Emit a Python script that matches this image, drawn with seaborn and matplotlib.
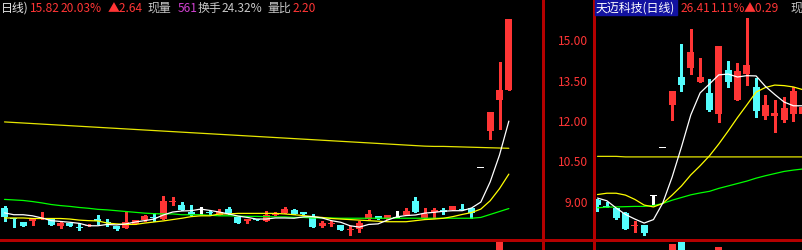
import numpy as np
import pandas as pd
import matplotlib
matplotlib.use("Agg")
import matplotlib.pyplot as plt
import seaborn as sns
from matplotlib.patches import Rectangle
from matplotlib.lines import Line2D
from matplotlib.transforms import blended_transform_factory

sns.set_theme(style="dark")
plt.rcParams['font.family'] = ['Noto Sans CJK SC', 'DejaVu Sans']

# ---------------- data: left chart (daily candles) ----------------
left_open = [8.78, 8.40, 8.26, 8.31, 8.37, 8.37, 8.12, 8.22, 8.07, 8.14,
             8.34, 8.24, 8.11, 8.03, 8.19, 8.33, 8.45, 8.37, 9.02, 8.89,
             8.62, 8.72, 8.63, 8.53, 8.74, 8.44, 8.29, 8.36, 8.29, 8.53,
             8.59, 8.71, 8.62, 8.44, 8.10, 8.21, 8.15, 7.99, 8.00, 8.37,
             8.47, 8.37, 8.44, 8.52, 9.04, 8.41, 8.62, 8.68, 8.71, 8.74,
             8.77, 10.29, 11.65, 12.80, 13.15]
left_high = [8.84, 8.41, 8.27, 8.37, 8.63, 8.38, 8.30, 8.23, 8.22, 8.18,
             8.52, 8.37, 8.12, 8.66, 8.34, 8.53, 8.59, 9.24, 9.18, 8.99,
             8.89, 8.82, 8.68, 8.74, 8.83, 8.45, 8.38, 8.37, 8.66, 8.64,
             8.83, 8.74, 8.65, 8.56, 8.31, 8.31, 8.16, 8.12, 8.31, 8.71,
             8.48, 8.53, 8.66, 8.78, 9.19, 8.78, 8.78, 8.78, 8.85, 8.93,
             8.78, 10.29, 12.35, 14.22, 15.82]
left_low = [8.31, 8.06, 8.10, 8.16, 8.36, 8.15, 8.04, 8.11, 7.96, 8.12,
            8.19, 8.12, 7.98, 8.02, 8.18, 8.29, 8.30, 8.36, 8.89, 8.70,
            8.51, 8.56, 8.57, 8.52, 8.57, 8.21, 8.21, 8.32, 8.28, 8.52,
            8.58, 8.55, 8.56, 8.08, 8.09, 8.12, 7.95, 7.79, 7.89, 8.36,
            8.36, 8.36, 8.43, 8.51, 8.63, 8.40, 8.41, 8.56, 8.70, 8.70,
            8.41, 10.29, 11.35, 11.72, 13.15]
left_close = [8.46, 8.37, 8.11, 8.37, 8.39, 8.16, 8.21, 8.12, 8.06, 8.15,
              8.33, 8.22, 7.99, 8.25, 8.33, 8.47, 8.43, 9.03, 9.03, 8.71,
              8.52, 8.72, 8.62, 8.62, 8.58, 8.22, 8.37, 8.34, 8.53, 8.58,
              8.74, 8.56, 8.57, 8.09, 8.22, 8.22, 7.96, 8.00, 8.21, 8.56,
              8.37, 8.52, 8.44, 8.66, 8.64, 8.57, 8.71, 8.66, 8.84, 8.71,
              8.58, 10.29, 12.35, 13.18, 15.82]
left_ma_white = [8.60, 8.53, 8.53, 8.49, 8.41, 8.31, 8.28, 8.25, 8.21, 8.12,
                 8.12, 8.17, 8.15, 8.19, 8.26, 8.31, 8.37, 8.52, 8.63, 8.67,
                 8.68, 8.74, 8.69, 8.63, 8.56, 8.48, 8.43, 8.37, 8.37, 8.41,
                 8.41, 8.40, 8.45, 8.46, 8.41, 8.31, 8.25, 8.12, 8.07, 8.17,
                 8.19, 8.33, 8.45, 8.50, 8.52, 8.59, 8.62, 8.66, 8.68, 8.68,
                 8.78, 9.00, 9.75, 10.75, 12.01]
left_ma_yellow = [8.41, 8.41, 8.41, 8.39, 8.39, 8.39, 8.39, 8.37, 8.33, 8.31,
                  8.30, 8.22, 8.19, 8.17, 8.17, 8.22, 8.26, 8.30, 8.35, 8.40,
                  8.46, 8.49, 8.49, 8.56, 8.56, 8.58, 8.58, 8.58, 8.58, 8.58,
                  8.56, 8.53, 8.50, 8.46, 8.43, 8.39, 8.37, 8.35, 8.33, 8.31,
                  8.29, 8.27, 8.27, 8.27, 8.31, 8.35, 8.37, 8.40, 8.46, 8.54,
                  8.61, 8.74, 9.05, 9.50, 10.04]
left_ma_green = [9.10, 9.08, 9.06, 9.02, 8.97, 8.91, 8.87, 8.84, 8.80, 8.77,
                 8.73, 8.71, 8.68, 8.65, 8.62, 8.59, 8.57, 8.56, 8.56, 8.53,
                 8.53, 8.53, 8.51, 8.49, 8.49, 8.48, 8.47, 8.47, 8.46, 8.45,
                 8.45, 8.43, 8.43, 8.41, 8.41, 8.41, 8.40, 8.40, 8.40, 8.40,
                 8.40, 8.40, 8.40, 8.40, 8.40, 8.40, 8.40, 8.40, 8.40, 8.40,
                 8.40, 8.43, 8.54, 8.65, 8.76]
left_ma_long = [11.98, 11.96, 11.94, 11.92, 11.90, 11.88, 11.86, 11.84, 11.82, 11.80,
                11.78, 11.76, 11.74, 11.72, 11.70, 11.68, 11.66, 11.64, 11.62, 11.60,
                11.58, 11.56, 11.54, 11.52, 11.50, 11.48, 11.46, 11.44, 11.42, 11.40,
                11.38, 11.36, 11.34, 11.32, 11.30, 11.28, 11.26, 11.24, 11.22, 11.20,
                11.18, 11.16, 11.14, 11.12, 11.10, 11.08, 11.07, 11.07, 11.06, 11.05,
                11.04, 11.03, 11.02, 11.01, 11.00]
left_vol_idx = [53]
left_vol_val = [99]

# ---------------- data: right chart (天迈科技) ----------------
right_open = [9.08, 8.87, 8.77, 8.58, 8.12, 8.15, 9.24, 11.04, 12.62, 13.66,
              13.98, 13.48, 13.06, 12.27, 13.91, 12.80, 13.76, 13.27, 12.21, 12.21,
              12.06, 12.27, 12.27]
right_high = [9.12, 9.01, 8.78, 8.64, 8.31, 8.16, 9.24, 11.04, 13.14, 14.88,
              15.43, 14.36, 13.58, 14.81, 14.26, 14.17, 15.84, 13.60, 12.98, 12.80,
              12.92, 13.27, 12.60]
right_low = [8.68, 8.80, 8.39, 7.99, 7.90, 7.78, 8.93, 11.04, 12.06, 13.14,
             13.76, 13.48, 12.40, 11.99, 13.29, 12.80, 13.36, 12.17, 12.09, 11.59,
             11.99, 12.03, 12.20]
right_close = [8.90, 8.81, 8.40, 8.00, 8.13, 7.84, 9.24, 11.04, 13.14, 13.36,
               14.59, 13.66, 12.43, 14.81, 13.45, 13.88, 14.11, 12.40, 12.61, 12.31,
               12.49, 13.14, 12.53]
right_ma_white = [9.15, 9.05, 8.78, 8.54, 8.37, 8.22, 8.35, 8.97, 9.93, 11.05,
                  12.24, 13.06, 13.39, 13.73, 13.76, 13.65, 13.70, 13.69, 13.30, 13.00,
                  12.72, 12.58, 12.58]
right_ma_yellow = [9.28, 9.33, 9.33, 9.26, 9.10, 8.89, 8.82, 8.95, 9.26, 9.60,
                   10.01, 10.35, 10.72, 11.16, 11.64, 12.14, 12.61, 13.09, 13.26, 13.35,
                   13.33, 13.28, 13.18]
right_ma_green = [8.79, 8.81, 8.82, 8.83, 8.84, 8.84, 8.87, 8.95, 9.07, 9.17,
                  9.27, 9.34, 9.40, 9.51, 9.60, 9.69, 9.78, 9.89, 9.98, 10.06,
                  10.14, 10.19, 10.23]
right_ma_long = [10.70, 10.70, 10.70, 10.68, 10.68, 10.68, 10.68, 10.68, 10.68, 10.68,
                 10.68, 10.68, 10.68, 10.68, 10.68, 10.68, 10.68, 10.68, 10.68, 10.68,
                 10.68, 10.68, 10.68]
right_vol_idx = [8, 9, 13]
right_vol_val = [96, 99, 93]

price_ticks = [15.00, 13.50, 12.00, 10.50, 9.00]

# ---------------- style ----------------
RED = '#ff3535'
CYAN = '#54fcfc'
WHITE = '#ffffff'
YELLOW = '#ffff00'
LONGY = '#e6e600'
GREEN = '#00ff00'
BORDER = '#b40000'
GRAY = '#c8c8c8'
MAGENTA = '#d040d0'

W, H = 802, 251
fig = plt.figure(figsize=(W / 100, H / 100), dpi=100, facecolor='black')


def fy(py):
    return 1 - py / H


YLIM = (7.628, 16.55)


def setup(ax, xlim, ylim):
    ax.set_facecolor('black')
    ax.set_xlim(*xlim)
    ax.set_ylim(*ylim)
    ax.set_xticks([])
    ax.set_yticks([])
    ax.set_xlabel('')
    ax.set_ylabel('')
    ax.grid(False)
    for s in ax.spines.values():
        s.set_visible(False)


def candle_colors(o, c):
    o = np.asarray(o); c = np.asarray(c)
    return np.where(c > o, RED, np.where(c < o, CYAN, WHITE))


def draw_candles(ax, o, h, l, c):
    o, h, l, c = map(np.asarray, (o, h, l, c))
    x = np.arange(len(o))
    cols = candle_colors(o, c)
    ax.vlines(x, l, h, colors=cols, linewidth=0.8, antialiased=False, zorder=2)
    bottom = np.minimum(o, c)
    height = np.abs(c - o)
    flat = height < 0.04
    bottom = np.where(flat, (o + c) / 2 - 0.02, bottom)
    height = np.where(flat, 0.04, height)
    ax.bar(x, height, bottom=bottom, width=0.75, color=cols, linewidth=0,
           antialiased=False, zorder=3)


def draw_mas(ax, white, yellow, green, longl):
    n = len(white)
    df = pd.DataFrame({'i': np.arange(n), 'long': longl, 'green': green,
                       'yellow': yellow, 'white': white})
    long_df = df.melt(id_vars='i', var_name='ma', value_name='price')
    sns.lineplot(data=long_df, x='i', y='price', hue='ma',
                 palette={'long': LONGY, 'green': GREEN, 'yellow': YELLOW, 'white': WHITE},
                 hue_order=['long', 'green', 'yellow', 'white'],
                 estimator=None, legend=False, linewidth=0.9, ax=ax, zorder=4)


# left price panel
ax_l = fig.add_axes([0, fy(240), 542 / W, 240 / H])
draw_candles(ax_l, left_open, left_high, left_low, left_close)
draw_mas(ax_l, left_ma_white, left_ma_yellow, left_ma_green, left_ma_long)
setup(ax_l, (-0.482, 57.55), YLIM)

# right price panel
ax_r = fig.add_axes([593 / W, fy(240), (W - 593) / W, 240 / H])
draw_candles(ax_r, right_open, right_high, right_low, right_close)
draw_mas(ax_r, right_ma_white, right_ma_yellow, right_ma_green, right_ma_long)
setup(ax_r, (-0.482, 21.92), YLIM)

# volume strips (only tops visible below separator)
ax_lv = fig.add_axes([0, fy(341), 542 / W, 100 / H])
lc = candle_colors(left_open, left_close)
ax_lv.bar(left_vol_idx, left_vol_val, width=0.75, color=[lc[i] for i in left_vol_idx],
          linewidth=0, antialiased=False)
setup(ax_lv, (-0.482, 57.55), (0, 100))

ax_rv = fig.add_axes([593 / W, fy(341), (W - 593) / W, 100 / H])
rc = candle_colors(right_open, right_close)
ax_rv.bar(right_vol_idx, right_vol_val, width=0.75, color=[rc[i] for i in right_vol_idx],
          linewidth=0, antialiased=False)
setup(ax_rv, (-0.482, 21.92), (0, 100))

# price labels for left chart
tr = blended_transform_factory(fig.transFigure, ax_l.transData)
for p in price_ticks:
    ax_l.text(588 / W, p, f"{p:.2f}", transform=tr, ha='right', va='center',
              color=RED, fontsize=8.6, clip_on=False)

# separator lines
fig.add_artist(Line2D([0, 1], [fy(240.5)] * 2, color=BORDER, lw=1.0, antialiased=False))
fig.add_artist(Line2D([542.5 / W] * 2, [0, 1], color=BORDER, lw=1.0, antialiased=False))
fig.add_artist(Line2D([593.5 / W] * 2, [0, 1], color=BORDER, lw=1.0, antialiased=False))

# header texts
TY = fy(8.5)


def htext(x, s, color):
    fig.text(x / W, TY, s, color=color, fontsize=8.6, va='center', ha='left')


htext(1, "日线)", '#e6e6e6')
htext(30, "15.82", RED)
htext(61, "20.03%", RED)
htext(108, "▲2.64", RED)
htext(147, "现量", GRAY)
htext(178, "561", MAGENTA)
htext(198, "换手", GRAY)
htext(222, "24.32%", GRAY)
htext(267, "量比", GRAY)
htext(293, "2.20", RED)

fig.add_artist(Rectangle((595 / W, fy(16)), 82 / W, 16 / H, transform=fig.transFigure,
                         color='#1212a0', zorder=5))
fig.text(596 / W, TY, "天迈科技(日线)", color='white', fontsize=8.6, va='center',
         ha='left', zorder=6)
htext(681, "26.41", RED)
htext(711, "1.11%", RED)
htext(744, "▲0.29", RED)
htext(790, "现", GRAY)

fig.savefig("out.png", dpi=100, facecolor='black')
